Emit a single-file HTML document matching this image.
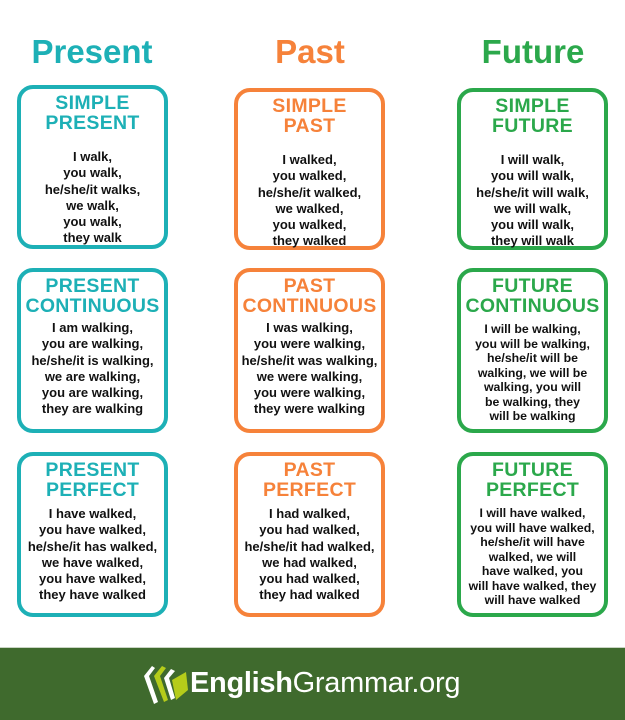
<!DOCTYPE html>
<html><head><meta charset="utf-8"><style>
*{margin:0;padding:0;box-sizing:border-box}
body{width:625px;height:720px;background:#fff;position:relative;overflow:hidden;font-family:"Liberation Sans","DejaVu Sans",sans-serif}
.h{position:absolute;top:30px;width:200px;text-align:center;font-size:33px;font-weight:bold;line-height:44px}
.b{position:absolute;width:151px;border:4px solid;border-radius:16px;text-align:center;white-space:nowrap}
.t{font-weight:bold;font-size:19.5px;line-height:20px;margin-top:4px;letter-spacing:0.3px}
.x{font-weight:bold;font-size:13px;color:#111;line-height:16.3px;margin-top:8px;letter-spacing:0}
.x.s{line-height:14.5px;font-size:12.3px;margin-top:6px}
.T{border-color:#1db0b6}.T .t,.hT{color:#1db0b6}
.O{border-color:#f6823a}.O .t,.hO{color:#f6823a}
.G{border-color:#2ba84b}.G .t,.hG{color:#2ba84b}
.r1{top:85px;height:164px}.r2{top:268px;height:165px}.r3{top:452px;height:165px}
.c1{left:17px}.c2{left:234px}.c3{left:457px}
.r1 .x{margin-top:16px}
.foot{position:absolute;left:0;top:647px;width:625px;height:73px;background:#3f6a2d;border-top:1px solid #c9d4c4}
</style></head><body>
<div class="h hT" style="left:-8px">Present</div>
<div class="h hO" style="left:210px">Past</div>
<div class="h hG" style="left:433px">Future</div>

<div class="b T r1 c1"><div class="t">SIMPLE<br>PRESENT</div><div class="x">I walk,<br>you walk,<br>he/she/it walks,<br>we walk,<br>you walk,<br>they walk</div></div>
<div class="b O r1 c2" style="top:88px;height:162px"><div class="t">SIMPLE<br>PAST</div><div class="x">I walked,<br>you walked,<br>he/she/it walked,<br>we walked,<br>you walked,<br>they walked</div></div>
<div class="b G r1 c3" style="top:88px;height:162px"><div class="t">SIMPLE<br>FUTURE</div><div class="x">I will walk,<br>you will walk,<br>he/she/it will walk,<br>we will walk,<br>you will walk,<br>they will walk</div></div>

<div class="b T r2 c1"><div class="t">PRESENT<br>CONTINUOUS</div><div class="x" style="margin-top:4px">I am walking,<br>you are walking,<br>he/she/it is walking,<br>we are walking,<br>you are walking,<br>they are walking</div></div>
<div class="b O r2 c2"><div class="t">PAST<br>CONTINUOUS</div><div class="x" style="margin-top:4px">I was walking,<br>you were walking,<br>he/she/it was walking,<br>we were walking,<br>you were walking,<br>they were walking</div></div>
<div class="b G r2 c3"><div class="t">FUTURE<br>CONTINUOUS</div><div class="x s">I will be walking,<br>you will be walking,<br>he/she/it will be<br>walking, we will be<br>walking, you will<br>be walking, they<br>will be walking</div></div>

<div class="b T r3 c1"><div class="t">PRESENT<br>PERFECT</div><div class="x" style="margin-top:6px">I have walked,<br>you have walked,<br>he/she/it has walked,<br>we have walked,<br>you have walked,<br>they have walked</div></div>
<div class="b O r3 c2"><div class="t">PAST<br>PERFECT</div><div class="x" style="margin-top:6px">I had walked,<br>you had walked,<br>he/she/it had walked,<br>we had walked,<br>you had walked,<br>they had walked</div></div>
<div class="b G r3 c3"><div class="t">FUTURE<br>PERFECT</div><div class="x s">I will have walked,<br>you will have walked,<br>he/she/it will have<br>walked, we will<br>have walked, you<br>will have walked, they<br>will have walked</div></div>

<div class="foot">
<svg style="position:absolute;left:142px;top:12px" width="48" height="46" viewBox="0 0 48 46">
<path d="M2 16 L10 6 L13 8 L7 16 L16 42 L12 44 Z" fill="#fff"/>
<path d="M12 16 L20 6 L24 8 L18 16 L26 40 L22 42 Z" fill="#b5cc1a"/>
<path d="M22 18 L29 9 L33 11 L27 18 L33 38 L29 40 Z" fill="#fff"/>
<path d="M30 20 L44 12 L46 30 L34 40 Z" fill="#b5cc1a"/>
</svg>
<div style="position:absolute;left:190px;top:17px;font-size:29px;color:#fff;line-height:36px;letter-spacing:-0.3px"><b>English</b>Grammar.org</div>
</div>
</body></html>
